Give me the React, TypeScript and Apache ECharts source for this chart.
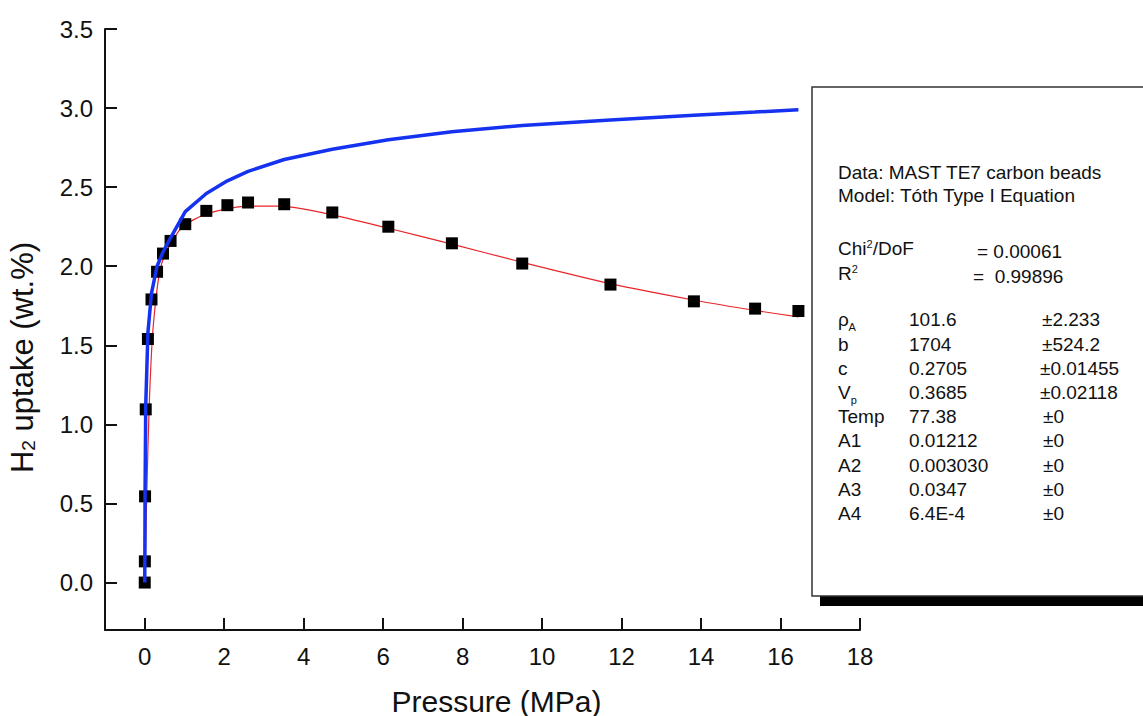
import React, { useEffect, useRef } from "react";
import * as echarts from "echarts";

// Measured excess uptake (black squares)
const pressure = [0, 0.003, 0.008, 0.025, 0.08, 0.17, 0.31, 0.46, 0.65, 1.02, 1.55, 2.08, 2.6, 3.51, 4.72, 6.13, 7.73, 9.5, 11.72, 13.82, 15.36, 16.45];
const excessUptake = [0, 0.134, 0.545, 1.095, 1.54, 1.79, 1.965, 2.08, 2.16, 2.266, 2.35, 2.386, 2.403, 2.392, 2.34, 2.25, 2.145, 2.017, 1.884, 1.778, 1.732, 1.717];
// Absolute uptake (blue line) at the same pressures
const absoluteUptake = [0, 0.14, 0.56, 1.12, 1.58, 1.83, 2.0, 2.09, 2.18, 2.345, 2.46, 2.54, 2.6, 2.675, 2.74, 2.8, 2.85, 2.89, 2.925, 2.955, 2.975, 2.99];
// Tóth fit curve (red line)
const fitPressure = [0, 0.02, 0.05, 0.11, 0.19, 0.28, 0.38, 0.5, 0.7, 0.88, 1.2, 1.55, 2.0, 2.6, 3.4, 4.72, 6.13, 7.73, 9.5, 11.72, 13.84, 15.37, 16.45];
const fitUptake = [0, 0.2, 0.55, 1.1, 1.54, 1.79, 1.97, 2.07, 2.16, 2.23, 2.29, 2.33, 2.36, 2.38, 2.38, 2.325, 2.24, 2.14, 2.025, 1.89, 1.785, 1.72, 1.68];

// Fit report box
const headerLines = ["Data: MAST TE7 carbon beads", "Model: Tóth Type I Equation"];
const chiValue = "= 0.00061";
const r2Value = "=  0.99896";
const paramNames = ["ρ|A", "b", "c", "V|p", "Temp", "A1", "A2", "A3", "A4"];
const paramValues = ["101.6", "1704", "0.2705", "0.3685", "77.38", "0.01212", "0.003030", "0.0347", "6.4E-4"];
const paramErrors = ["±2.233", "±524.2", "±0.01455", "±0.02118", "±0", "±0", "±0", "±0", "±0"];

const xTitle = "Pressure (MPa)";

export default function App() {
  const ref = useRef<HTMLDivElement>(null);
  useEffect(() => {
    const chart = echarts.init(ref.current!, null, { renderer: "svg" });
    const font = "'Liberation Sans', Arial, Helvetica, sans-serif";
    const ink = "#111";
    const fs = 19;
    const mid = (baseline: number, size: number) => baseline - 0.3465 * size;

    const txt = (x: number, baseline: number, text: string, size = fs, z = 20) => ({
      type: "text",
      x,
      y: mid(baseline, size),
      z,
      style: { text, fill: ink, font: `${size}px ${font}`, align: "left", verticalAlign: "middle" },
    });

    const graphics: any[] = [];
    // shadow + box
    graphics.push({ type: "rect", z: 10, shape: { x: 820, y: 596, width: 340, height: 10 }, style: { fill: "#000" } });
    graphics.push({ type: "rect", z: 11, shape: { x: 812, y: 87, width: 345, height: 509 }, style: { fill: "#fff", stroke: "#333", lineWidth: 1.5 } });

    graphics.push(txt(838, 179, headerLines[0]));
    graphics.push(txt(838, 202, headerLines[1]));

    const supRich = {
      n: { fontSize: fs, fontFamily: font, fill: ink, color: ink, lineHeight: 20 },
      s: { fontSize: 11, fontFamily: font, fill: ink, color: ink, lineHeight: 11, verticalAlign: "top" },
    };
    graphics.push({
      type: "text", x: 838, y: 258, z: 20,
      style: { text: "{n|Chi}{s|2}{n|/DoF}", align: "left", verticalAlign: "bottom", rich: supRich },
    });
    graphics.push(txt(977, 258, chiValue));
    graphics.push({
      type: "text", x: 838, y: 283, z: 20,
      style: { text: "{n|R}{s|2}", align: "left", verticalAlign: "bottom", rich: supRich },
    });
    graphics.push(txt(973, 283, r2Value));

    const rowStart = 326.5;
    const rowStep = 24.2;
    paramNames.forEach((name, i) => {
      const b = rowStart + i * rowStep;
      const parts = name.split("|");
      graphics.push(txt(838, b, parts[0]));
      if (parts[1]) {
        const mainW = parts[0] === "V" ? 12.7 : 10.6;
        graphics.push(txt(838 + mainW, b + 4.5, parts[1], 11));
      }
      graphics.push(txt(909, b, paramValues[i]));
      graphics.push(txt(paramErrors[i] === "±0" ? 1043 : paramErrors[i].length > 6 ? 1040 : 1042, b, paramErrors[i]));
    });

    // y axis title with subscript
    graphics.push({
      type: "text", x: 22, y: 473, rotation: Math.PI / 2, z: 20,
      style: {
        text: "{n|H}{s|2}{n| uptake (wt.%)}", align: "left", verticalAlign: "middle",
        rich: {
          n: { fontSize: 31, fontFamily: font, fill: ink, color: ink, lineHeight: 32 },
          s: { fontSize: 19, fontFamily: font, fill: ink, color: ink, lineHeight: 6, verticalAlign: "bottom" },
        },
      },
    });

    const axisCommon = {
      axisLine: { show: true, onZero: false, lineStyle: { color: ink, width: 2 } },
      axisTick: { show: true, inside: true, length: 12, lineStyle: { color: ink, width: 2 } },
      splitLine: { show: false },
    };

    const option: any = {
      animation: false,
      backgroundColor: "#fff",
      grid: { left: 105, right: 283, top: 29, bottom: 86, containLabel: false, outerBoundsMode: "none" },
      xAxis: {
        type: "value",
        min: -1,
        max: 18,
        splitNumber: 10,
        minInterval: 2,
        maxInterval: 2,
        ...axisCommon,
        axisLabel: {
          margin: 14,
          fontSize: 24,
          fontFamily: font,
          color: ink,
          formatter: (v: number) => (v < 0 ? "" : String(v)),
        },
        name: xTitle,
        nameLocation: "middle",
        nameGap: 56,
        nameTextStyle: { fontSize: 30, fontFamily: font, color: ink, padding: [0, 0, 0, 28] },
      },
      yAxis: {
        type: "value",
        min: -0.3,
        max: 3.5,
        splitNumber: 8,
        minInterval: 0.5,
        maxInterval: 0.5,
        ...axisCommon,
        axisLabel: {
          margin: 12,
          fontSize: 24,
          fontFamily: font,
          color: ink,
          formatter: (v: number) => (v < 0 ? "" : v.toFixed(1)),
        },
      },
      series: [
        {
          type: "line",
          name: "Tóth fit",
          data: fitPressure.map((p, i) => [p, fitUptake[i]]),
          showSymbol: false,
          smooth: 0.25,
          lineStyle: { color: "#e8262a", width: 1.2 },
          z: 2,
        },
        {
          type: "scatter",
          name: "Excess uptake",
          data: pressure.map((p, i) => [p, excessUptake[i]]),
          symbol: "rect",
          symbolSize: 12,
          itemStyle: { color: "#000", opacity: 1 },
          z: 3,
        },
        {
          type: "line",
          name: "Absolute uptake",
          data: pressure.map((p, i) => [p, absoluteUptake[i]]),
          showSymbol: false,
          lineStyle: { color: "#1432f0", width: 3.5 },
          z: 4,
        },
      ],
      graphic: graphics,
    };
    chart.setOption(option);
    return () => chart.dispose();
  }, []);
  return <div ref={ref} style={{ position: "absolute", left: 0, top: 0, width: 1143, height: 716 }} />;
}
